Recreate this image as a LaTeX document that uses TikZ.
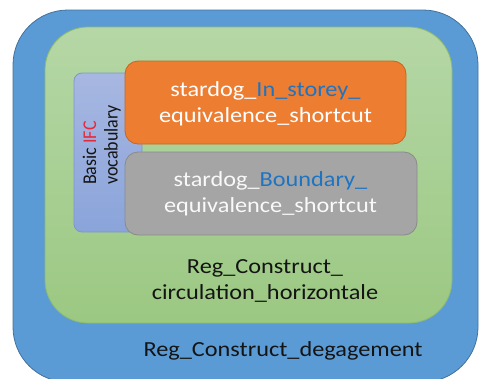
\documentclass[tikz,border=0pt]{standalone}
\usepackage{fontspec}
\setmainfont{Carlito}
\definecolor{outerblue}{HTML}{5B9BD5}
\definecolor{outerblueline}{HTML}{41719C}
\definecolor{greentop}{HTML}{B5D7A6}
\definecolor{greenbot}{HTML}{9BC882}
\definecolor{greenline}{HTML}{8DBA6E}
\definecolor{purptop}{HTML}{A7B7E1}
\definecolor{purpbot}{HTML}{8AA4DA}
\definecolor{purpline}{HTML}{7E97CC}
\definecolor{orangefill}{HTML}{ED7D31}
\definecolor{orangeline}{HTML}{C9651F}
\definecolor{greyfill}{HTML}{A5A5A5}
\definecolor{greyline}{HTML}{8A8A8A}
\definecolor{labelblue}{HTML}{1F74C2}
\definecolor{ifcred}{HTML}{E8293A}
\definecolor{darktext}{HTML}{141414}
\newcommand{\widetext}[1]{\scalebox{1.13}[1]{\begin{tabular}{@{}c@{}}#1\end{tabular}}}
\tikzset{
  region/.style={line width=0.8pt},
  innerbox/.style={draw, line width=0.8pt, rounded corners=13pt, inner sep=0pt},
  boxtext/.style={font=\fontsize{21.5}{26}\selectfont, text=white, inner sep=0pt},
  bigtext/.style={font=\fontsize{21.5}{26}\selectfont, text=darktext, inner sep=0pt},
}
\begin{document}
\begin{tikzpicture}[x=1pt,y=-1pt]
\useasboundingbox (0,0) rectangle (479,378);
\clip (0,0) rectangle (479,378);
% outer blue region
\draw[region, draw=outerblueline, fill=outerblue, rounded corners=55pt] (13,10) rectangle (478,382);
% green region
\draw[region, draw=greenline, top color=greentop, bottom color=greenbot, rounded corners=43pt] (45,27) rectangle (452,323);
% Basic IFC vocabulary box
\node[draw=purpline, line width=0.8pt, top color=purptop, bottom color=purpbot, rounded corners=8pt,
      minimum width=68pt, minimum height=159pt, inner sep=0pt] (ifc) at (108,152.5) {};
\node[rotate=90, anchor=west, inner sep=0pt, text=darktext,
      font=\fontsize{18}{20}\selectfont] (ifctext) at (102.5,185)
      {\scalebox{1}[1.08]{\begin{tabular}{@{}l@{}}Basic \textcolor{ifcred}{IFC}\\vocabulary\end{tabular}}};
% orange box
\node[innerbox, draw=orangeline, fill=orangefill, minimum width=281pt, minimum height=83pt] (instorey) at (265.5,102.5) {};
\node[boxtext] (instoreytext) at (265.5,104) {\widetext{stardog\_\textcolor{labelblue}{In\_storey\_}\\equivalence\_shortcut}};
% grey box
\node[innerbox, draw=greyline, fill=greyfill, minimum width=292pt, minimum height=83pt] (boundary) at (271,193.5) {};
\node[boxtext, text=white!95!gray] (boundarytext) at (270.5,194.5) {\widetext{stardog\_\textcolor{labelblue}{Boundary\_}\\equivalence\_shortcut}};
% labels
\node[bigtext] (circ) at (265,281) {\widetext{Reg\_Construct\_\\circulation\_horizontale}};
\node[bigtext] (deg) at (283,351) {\widetext{Reg\_Construct\_degagement}};
\end{tikzpicture}
\end{document}
